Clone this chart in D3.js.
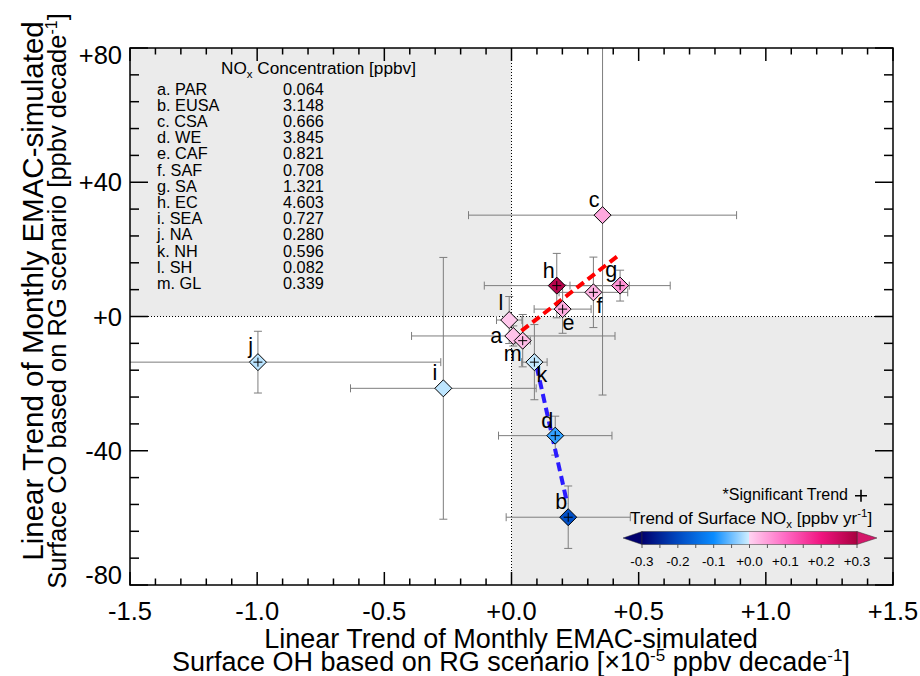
<!DOCTYPE html>
<html>
<head>
<meta charset="utf-8">
<script src="https://cdn.jsdelivr.net/npm/d3@7"></script>
<style>
  body { margin: 0; background: #fff; }
  svg { display: block; font-family: "Liberation Sans", Arial, Helvetica, sans-serif; }
</style>
</head>
<body>
<svg id="chart" width="920" height="676"></svg>
<script>
// ---- data -------------------------------------------------------------
const regionKeys   = ["a", "b", "c", "d", "e", "f", "g", "h", "i", "j", "k", "l", "m"];
const regionNames  = ["PAR", "EUSA", "CSA", "WE", "CAF", "SAF", "SA", "EC", "SEA", "NA", "NH", "SH", "GL"];
const noxConc      = ["0.064", "3.148", "0.666", "3.845", "0.821", "0.708", "1.321", "4.603", "0.727", "0.280", "0.596", "0.082", "0.339"];
// surface OH trend [1e-5 ppbv/decade] and its uncertainty
const ohTrend      = [0.007, 0.223, 0.358, 0.172, 0.201, 0.322, 0.427, 0.178, -0.268, -0.997, 0.090, -0.009, 0.044];
const ohErr        = [0.400, 0.244, 0.527, 0.223, 0.112, 0.135, 0.197, 0.285, 0.365, 0.719, 0.050, 0.050, 0.030];
// surface CO trend [ppbv/decade] and its uncertainty
const coTrend      = [-5.8, -59.8, 30.2, -35.5, 2.2, 7.2, 9.2, 9.2, -21.4, -13.6, -13.6, -1.05, -7.2];
const coErr        = [3.0, 9.3, 53.6, 5.8, 7.2, 10.5, 4.6, 9.6, 39.0, 9.2, 11.2, 7.0, 7.8];
// surface NOx trend [ppbv/yr] and significance flag
const noxTrend     = [0.015, -0.19, 0.04, -0.08, 0.035, 0.03, 0.06, 0.28, -0.01, -0.012, -0.008, 0.01, 0.02];
const significant  = [false, true, false, true, true, true, true, true, false, true, true, false, true];

// regression lines for the increasing-NOx and decreasing-NOx groups
const fitUpX   = [0.039, 0.419];
const fitUpY   = [-4.3, 18.1];
const fitDownX = [0.099, 0.219];
const fitDownY = [-14.96, -55.7];

const xMajorTicks = [-1.5, -1.0, -0.5, 0.0, 0.5, 1.0, 1.5];
const yMajorTicks = [-80, -40, 0, 40, 80];
const cbarTicks   = [-0.3, -0.2, -0.1, 0.0, 0.1, 0.2, 0.3];

// ---- layout -----------------------------------------------------------
const svg = d3.select("#chart");
const L = 130, R = 893, T = 48, B = 585;
const x = d3.scaleLinear().domain([-1.5, 1.5]).range([L, R]);
const y = d3.scaleLinear().domain([-80, 80]).range([B, T]);

const FONT_TICK = 25.5, FONT_TITLE = 27;

// colour map for NOx trend: blue for decrease, pink/red for increase
const negColor = d3.scaleLinear()
  .domain([-0.3, -0.2, -0.1, 0])
  .range(["#00006e", "#0048c0", "#0a8cff", "#d2f0ff"])
  .clamp(true);
const posColor = d3.scaleLinear()
  .domain([0, 0.1, 0.2, 0.3])
  .range(["#ffd2f0", "#ff6ac4", "#f01480", "#a8003e"])
  .clamp(true);
const noxColor = v => (v < 0 ? negColor(v) : posColor(v));

const defs = svg.append("defs");
defs.append("clipPath").attr("id", "plotClip")
  .append("rect").attr("x", L).attr("y", T).attr("width", R - L).attr("height", B - T);

// ---- shaded quadrants ----------------------------------------------------
svg.append("rect")
  .attr("x", x(-1.5)).attr("y", y(80))
  .attr("width", x(0) - x(-1.5)).attr("height", y(0) - y(80))
  .attr("fill", "#ebebeb");
svg.append("rect")
  .attr("x", x(0)).attr("y", y(0))
  .attr("width", x(1.5) - x(0)).attr("height", y(-80) - y(0))
  .attr("fill", "#ebebeb");

// zero lines
svg.append("line")
  .attr("x1", x(0)).attr("x2", x(0)).attr("y1", T).attr("y2", B)
  .attr("stroke", "#000").attr("stroke-width", 1).attr("stroke-dasharray", "1,2");
svg.append("line")
  .attr("x1", L).attr("x2", R).attr("y1", y(0)).attr("y2", y(0))
  .attr("stroke", "#000").attr("stroke-width", 1).attr("stroke-dasharray", "1,2");

// ---- points ----------------------------------------------------------
const pts = regionKeys.map((k, i) => ({
  key: k, ox: ohTrend[i], oxe: ohErr[i], co: coTrend[i], coe: coErr[i],
  nox: noxTrend[i], sig: significant[i]
}));

// error bars
const eb = svg.append("g").attr("clip-path", "url(#plotClip)")
  .attr("stroke", "#7d7d7d").attr("stroke-width", 1).attr("fill", "none");
const cap = 4;
pts.forEach(p => {
  const cx = x(p.ox), cy = y(p.co);
  const x0 = x(p.ox - p.oxe), x1 = x(p.ox + p.oxe);
  const y0 = y(p.co - p.coe), y1 = y(p.co + p.coe);
  eb.append("path").attr("d",
    `M${x0},${cy}H${x1}M${x0},${cy - cap}V${cy + cap}M${x1},${cy - cap}V${cy + cap}` +
    `M${cx},${y0}V${y1}M${cx - cap},${y0}H${cx + cap}M${cx - cap},${y1}H${cx + cap}`);
});

// regression lines
const fitLine = d3.line().x(d => x(d[0])).y(d => y(d[1]));
svg.append("path")
  .attr("d", fitLine(d3.zip(fitUpX, fitUpY)))
  .attr("stroke", "#ff0000").attr("stroke-width", 4).attr("fill", "none")
  .attr("stroke-dasharray", "9,5");
svg.append("path")
  .attr("d", fitLine(d3.zip(fitDownX, fitDownY)))
  .attr("stroke", "#2b1bff").attr("stroke-width", 4).attr("fill", "none")
  .attr("stroke-dasharray", "9,5");

// diamonds
const D = 8.5;
const gp = svg.append("g");
pts.forEach(p => {
  const g = gp.append("g").attr("transform", `translate(${x(p.ox)},${y(p.co)})`);
  g.append("path")
    .attr("d", `M0,${-D}L${D},0L0,${D}L${-D},0Z`)
    .attr("fill", noxColor(p.nox)).attr("stroke", "#000").attr("stroke-width", 1);
  if (p.sig) {
    g.append("path").attr("d", "M-4.5,0H4.5M0,-4.5V4.5")
      .attr("stroke", "#000").attr("stroke-width", 1);
  }
});

// point letters (anchor and offset relative to the marker)
const letterPlace = {
  a: ["end", -11, 7], b: ["end", -1, -8], c: ["end", -3, -8], d: ["end", -2, -8],
  e: ["start", 0, 21], f: ["start", 3, 21], g: ["end", -3, -9], h: ["end", -2, -8],
  i: ["end", -6, -8], j: ["end", -5, -9], k: ["start", 2, 20], l: ["end", -6, -10],
  m: ["end", -1, 20]
};
pts.forEach(p => {
  const [anchor, dx, dy] = letterPlace[p.key];
  svg.append("text")
    .attr("x", x(p.ox) + dx).attr("y", y(p.co) + dy)
    .attr("text-anchor", anchor).attr("font-size", 21.5).attr("fill", "#000")
    .text(p.key);
});

// ---- NOx concentration table -----------------------------------------
const tbl = svg.append("g").attr("font-size", 16.3).attr("fill", "#000");
const tt = tbl.append("text").attr("x", 221).attr("y", 74).attr("font-size", 17.2);
tt.append("tspan").text("NO");
tt.append("tspan").attr("dy", 4).attr("font-size", 11.5).text("x");
tt.append("tspan").attr("dy", -4).text(" Concentration [ppbv]");
regionKeys.forEach((k, i) => {
  const yy = 94.5 + i * 16.2;
  tbl.append("text").attr("x", 157).attr("y", yy).text(`${k}. ${regionNames[i]}`);
  tbl.append("text").attr("x", 283).attr("y", yy).text(noxConc[i]);
});

// ---- colour bar --------------------------------------------------------
const cb = d3.scaleLinear().domain([-0.3, 0.3]).range([642, 857]);
const cbTop = 531.5, cbH = 13;
const grad = defs.append("linearGradient").attr("id", "noxGrad")
  .attr("x1", "0%").attr("x2", "100%").attr("y1", "0%").attr("y2", "0%");
d3.range(0, 31).forEach(i => {
  const v = -0.3 + i * 0.01;
  grad.append("stop").attr("offset", `${(i / 60) * 100}%`).attr("stop-color", negColor(Math.min(v, 0)));
});
d3.range(0, 31).forEach(i => {
  const v = i * 0.01;
  grad.append("stop").attr("offset", `${((i + 30) / 60) * 100}%`).attr("stop-color", posColor(v));
});
const cbg = svg.append("g");
cbg.append("path")
  .attr("d", `M${cb(-0.3)},${cbTop}L${cb(-0.3) - 19},${cbTop + cbH / 2}L${cb(-0.3)},${cbTop + cbH}Z`)
  .attr("fill", negColor(-0.3)).attr("stroke", "#333").attr("stroke-width", 0.5);
cbg.append("path")
  .attr("d", `M${cb(0.3)},${cbTop}L${cb(0.3) + 20},${cbTop + cbH / 2}L${cb(0.3)},${cbTop + cbH}Z`)
  .attr("fill", "#d4176a").attr("stroke", "#333").attr("stroke-width", 0.5);
cbg.append("rect")
  .attr("x", cb(-0.3)).attr("y", cbTop).attr("width", cb(0.3) - cb(-0.3)).attr("height", cbH)
  .attr("fill", "url(#noxGrad)").attr("stroke", "#333").attr("stroke-width", 0.5);
d3.range(-0.3, 0.3001, 0.05).forEach(v => {
  cbg.append("line").attr("x1", cb(v)).attr("x2", cb(v))
    .attr("y1", cbTop + cbH).attr("y2", cbTop + cbH + 3.5)
    .attr("stroke", "#333").attr("stroke-width", 0.8);
});
cbarTicks.forEach(v => {
  cbg.append("text").attr("x", cb(v)).attr("y", 566)
    .attr("text-anchor", "middle").attr("font-size", 13.5)
    .text((v < 0 ? "-" : "+") + Math.abs(v).toFixed(1));
});
const cbt = cbg.append("text").attr("x", 630).attr("y", 524).attr("font-size", 17);
cbt.append("tspan").text("Trend of Surface NO");
cbt.append("tspan").attr("dy", 4).attr("font-size", 11.5).text("x");
cbt.append("tspan").attr("dy", -4).text(" [ppbv yr");
cbt.append("tspan").attr("dy", -7).attr("font-size", 11.5).text("-1");
cbt.append("tspan").attr("dy", 7).text("]");
cbg.append("text").attr("x", 848).attr("y", 500).attr("text-anchor", "end")
  .attr("font-size", 16).text("*Significant Trend");
cbg.append("path").attr("d", "M855,495.8H867M861,489.8V501.8")
  .attr("stroke", "#000").attr("stroke-width", 1.6);

// ---- frame and ticks -------------------------------------------------
const ax = svg.append("g").attr("stroke", "#000");
ax.append("rect").attr("x", L).attr("y", T).attr("width", R - L).attr("height", B - T)
  .attr("fill", "none").attr("stroke-width", 1.5);
const xMinor = d3.range(-15, 16).map(i => i / 10);
xMinor.forEach(v => {
  const major = Math.abs(v * 2 - Math.round(v * 2)) < 1e-6;
  const len = major ? 13 : 6.5;
  ax.append("line").attr("x1", x(v)).attr("x2", x(v)).attr("y1", B).attr("y2", B - len).attr("stroke-width", 1.5);
  ax.append("line").attr("x1", x(v)).attr("x2", x(v)).attr("y1", T).attr("y2", T + len).attr("stroke-width", 1.5);
});
const yMinor = d3.range(-10, 11).map(i => i * 8);
yMinor.forEach(v => {
  const major = v % 40 === 0;
  const len = major ? 18 : 9;
  ax.append("line").attr("x1", L).attr("x2", L + len).attr("y1", y(v)).attr("y2", y(v)).attr("stroke-width", 1.5);
  ax.append("line").attr("x1", R).attr("x2", R - len).attr("y1", y(v)).attr("y2", y(v)).attr("stroke-width", 1.5);
});

// tick labels
const lab = svg.append("g").attr("font-size", FONT_TICK).attr("fill", "#000");
xMajorTicks.forEach(v => {
  lab.append("text").attr("x", x(v)).attr("y", 620).attr("text-anchor", "middle")
    .text((v < 0 ? "-" : "+") + Math.abs(v).toFixed(1));
});
yMajorTicks.forEach(v => {
  const base = Math.max(63.5, Math.min(584, y(v) + 9));
  lab.append("text").attr("x", 122).attr("y", base).attr("text-anchor", "end")
    .text((v < 0 ? "-" : "+") + Math.abs(v));
});

// axis titles
const xt = svg.append("g").attr("font-size", FONT_TITLE).attr("text-anchor", "middle");
xt.append("text").attr("x", 511).attr("y", 648).text("Linear Trend of Monthly EMAC-simulated");
const xt2 = xt.append("text").attr("x", 511).attr("y", 670.5);
xt2.append("tspan").text("Surface OH based on RG scenario [\u00d710");
xt2.append("tspan").attr("dy", -10).attr("font-size", 17).text("-5");
xt2.append("tspan").attr("dy", 10).text(" ppbv decade");
xt2.append("tspan").attr("dy", -10).attr("font-size", 17).text("-1");
xt2.append("tspan").attr("dy", 10).text("]");

const yt = svg.append("g").attr("text-anchor", "middle");
yt.append("text").attr("transform", "translate(43,291) rotate(-90)").attr("font-size", 29.5)
  .text("Linear Trend of Monthly EMAC-simulated");
const yt2 = yt.append("text").attr("transform", "translate(66,301) rotate(-90)").attr("font-size", 25.5);
yt2.append("tspan").text("Surface CO based on RG scenario [ppbv decade");
yt2.append("tspan").attr("dy", -9).attr("font-size", 16).text("-1");
yt2.append("tspan").attr("dy", 9).text("]");
</script>
</body>
</html>
